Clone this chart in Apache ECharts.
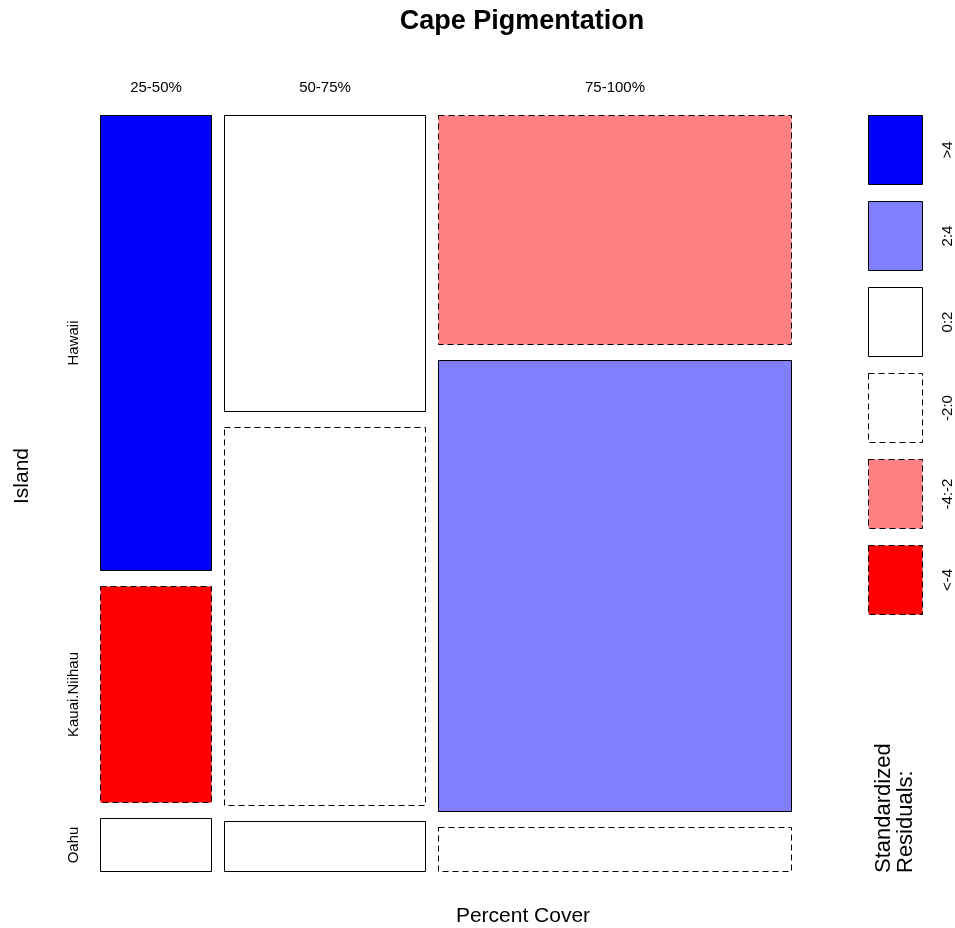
<!DOCTYPE html>
<html>
<head>
<meta charset="utf-8">
<script src="https://cdn.jsdelivr.net/npm/echarts@6/dist/echarts.min.js"></script>
<style>
  html, body { margin: 0; padding: 0; background: #fff; }
  #main { width: 955px; height: 928px; }
</style>
</head>
<body>
<div id="main"></div>
<script>
var columns = ["25-50%", "50-75%", "75-100%"];
var islands = ["Hawaii", "Kauai.Niihau", "Oahu"];
// counts, one value per cover class
var hawaii = [84, 99, 134];
var kauai = [40, 126, 264];
var oahu = [10, 17, 26];
// standardized residuals (estimated from the shading)
var resHawaii = [5.1, 1.2, -3.0];
var resKauai = [-4.6, -0.9, 2.8];
var resOahu = [0.6, 0.4, -0.7];
var legendLabels = [">4", "2:4", "0:2", "-2:0", "-4:-2", "<-4"];

var counts = [hawaii, kauai, oahu];
var resid = [resHawaii, resKauai, resOahu];
var FONT = '"Liberation Sans", Arial, sans-serif';

var colTotals = columns.map(function (c, j) {
  return counts.reduce(function (s, row) { return s + row[j]; }, 0);
});
var N = colTotals.reduce(function (a, b) { return a + b; }, 0);

var gapX = 12 / 692;
var gapY = 15 / 756;
var DASH = [6, 4];

function shade(r) {
  if (r > 4) return "#0000FF";
  if (r > 2) return "#8080FF";
  if (r > -2) return "#FFFFFF";
  if (r > -4) return "#FF8080";
  return "#FF0000";
}

var cells = [];
columns.forEach(function (c, j) {
  islands.forEach(function (isl, i) {
    cells.push([j, i, counts[i][j], resid[i][j]]);
  });
});

function renderCell(params, api) {
  var j = api.value(0), i = api.value(1);
  var usableX = 1 - gapX * (columns.length - 1);
  var usableY = 1 - gapY * (islands.length - 1);
  var x0 = 0;
  for (var k = 0; k < j; k++) x0 += colTotals[k] / N * usableX + gapX;
  var w = colTotals[j] / N * usableX;
  var y0 = 0;
  for (var m = 0; m < i; m++) y0 += counts[m][j] / colTotals[j] * usableY + gapY;
  var h = counts[i][j] / colTotals[j] * usableY;
  var p1 = api.coord([x0, y0]);
  var p2 = api.coord([x0 + w, y0 + h]);
  var left = Math.round(p1[0]) + 0.5, top = Math.round(p1[1]) + 0.5;
  var right = Math.round(p2[0]) - 0.5, bottom = Math.round(p2[1]) - 0.5;
  var r = api.value(3);
  var children = [{
    type: "rect",
    shape: { x: left, y: top, width: right - left, height: bottom - top },
    style: {
      fill: shade(r),
      stroke: "#000",
      lineWidth: 1,
      lineDash: r < 0 ? DASH : null
    }
  }];
  if (i === 0) {
    children.push({
      type: "text",
      x: (left + right) / 2,
      y: params.coordSys.y - 27,
      style: {
        text: columns[j], fontSize: 15, fontFamily: FONT, fill: "#000",
        align: "center", verticalAlign: "middle",
        textAlign: "center", textVerticalAlign: "middle"
      }
    });
  }
  if (j === 0) {
    children.push({
      type: "text",
      x: left - 27,
      y: (top + bottom) / 2,
      rotation: Math.PI / 2,
      style: {
        text: islands[i], fontSize: 15, fontFamily: FONT, fill: "#000",
        align: "center", verticalAlign: "middle",
        textAlign: "center", textVerticalAlign: "middle"
      }
    });
  }
  return { type: "group", children: children };
}

var legendTops = [115, 201, 287, 373, 459, 545];
var legendFills = ["#0000FF", "#8080FF", "#FFFFFF", "#FFFFFF", "#FF8080", "#FF0000"];
var graphics = [];
legendLabels.forEach(function (lab, k) {
  graphics.push({
    type: "rect",
    shape: { x: 868.5, y: legendTops[k] + 0.5, width: 54, height: 69 },
    style: { fill: legendFills[k], stroke: "#000", lineWidth: 1, lineDash: k >= 3 ? DASH : null }
  });
  graphics.push({
    type: "text",
    x: 948,
    y: legendTops[k] + 35,
    rotation: Math.PI / 2,
    style: {
      text: lab, fontSize: 15, fontFamily: FONT, fill: "#000",
      align: "center", verticalAlign: "middle",
      textAlign: "center", textVerticalAlign: "middle"
    }
  });
});
graphics.push({
  type: "text", x: 884, y: 873, rotation: Math.PI / 2,
  style: {
    text: "Standardized", fontSize: 22, fontFamily: FONT, fill: "#000",
    align: "left", verticalAlign: "middle", textAlign: "left", textVerticalAlign: "middle"
  }
});
graphics.push({
  type: "text", x: 906, y: 873, rotation: Math.PI / 2,
  style: {
    text: "Residuals:", fontSize: 22, fontFamily: FONT, fill: "#000",
    align: "left", verticalAlign: "middle", textAlign: "left", textVerticalAlign: "middle"
  }
});
graphics.push({
  type: "text", x: 22, y: 476, rotation: Math.PI / 2,
  style: {
    text: "Island", fontSize: 21, fontFamily: FONT, fill: "#000",
    align: "center", verticalAlign: "middle", textAlign: "center", textVerticalAlign: "middle"
  }
});
graphics.push({
  type: "text", x: 523, y: 916,
  style: {
    text: "Percent Cover", fontSize: 21, fontFamily: FONT, fill: "#000",
    align: "center", verticalAlign: "middle", textAlign: "center", textVerticalAlign: "middle"
  }
});
graphics.push({
  type: "text", x: 522, y: 22,
  style: {
    text: "Cape Pigmentation", fontSize: 27, fontWeight: "bold", fontFamily: FONT, fill: "#000",
    align: "center", verticalAlign: "middle", textAlign: "center", textVerticalAlign: "middle"
  }
});

var myChart = echarts.init(document.getElementById("main"));
var option = {
  backgroundColor: "#fff",
  animation: false,
  grid: { left: 100, right: 163, top: 115, bottom: 56 },
  xAxis: { type: "value", min: 0, max: 1, show: false },
  yAxis: { type: "value", min: 0, max: 1, inverse: true, show: false },
  graphic: graphics,
  series: [{
    type: "custom",
    renderItem: renderCell,
    data: cells,
    clip: false
  }]
};
myChart.setOption(option);
</script>
</body>
</html>
